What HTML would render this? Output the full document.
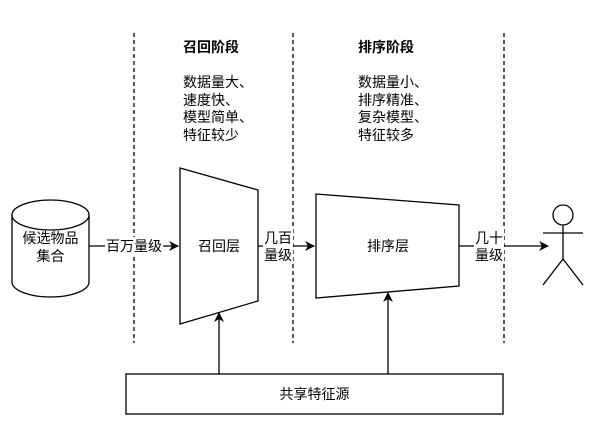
<!DOCTYPE html>
<html><head><meta charset="utf-8"><style>
body{margin:0;background:#fff;}
svg text{font-family:"Liberation Sans","Noto Sans CJK SC",sans-serif;font-size:14px;fill:#000;}
</style></head><body>
<svg width="606" height="438" viewBox="0 0 606 438" xmlns="http://www.w3.org/2000/svg">
<defs><marker id="a" markerWidth="10" markerHeight="10" refX="9" refY="5" orient="auto" markerUnits="userSpaceOnUse"><path d="M0,0 L10,5 L0,10 L3,5 Z" fill="#000"/></marker></defs>
<rect width="606" height="438" fill="#fff"/>
<g stroke="#000" stroke-width="1.3" stroke-dasharray="4,3">
<line x1="134" y1="33" x2="134" y2="343"/>
<line x1="293" y1="33" x2="293" y2="343"/>
<line x1="504" y1="33" x2="504" y2="343"/>
</g>
<g fill="#fff" stroke="#000" stroke-width="1.3">
<path d="M12,215 L12,282 A38.5,15 0 0 0 89,282 L89,215"/>
<ellipse cx="50.5" cy="215" rx="38.5" ry="15"/>
<path d="M180,168 L258,190 L258,301 L180,324 Z"/>
<path d="M316,194 L459,205 L459,286 L316,298 Z"/>
<rect x="126" y="374" width="377" height="40"/>
</g>
<g stroke="#000" stroke-width="1.3" fill="none">
<line x1="89" y1="246" x2="178" y2="246" marker-end="url(#a)"/>
<line x1="258" y1="246" x2="314" y2="246" marker-end="url(#a)"/>
<line x1="459" y1="246" x2="548" y2="246" marker-end="url(#a)"/>
<line x1="219" y1="374" x2="219" y2="313" marker-end="url(#a)"/>
<line x1="388" y1="374" x2="388" y2="293" marker-end="url(#a)"/>
<circle cx="563" cy="215" r="10"/>
<line x1="563" y1="225" x2="563" y2="259"/>
<line x1="543" y1="233" x2="583" y2="233"/>
<line x1="563" y1="259" x2="543" y2="285"/>
<line x1="563" y1="259" x2="583" y2="285"/>
</g>
<rect x="105" y="237" width="58" height="18" fill="#fff"/>
<text x="106" y="251">百万量级</text>
<rect x="263" y="228" width="30" height="36" fill="#fff"/>
<text x="264" y="243">几百</text><text x="264" y="260">量级</text>
<rect x="474" y="228" width="30" height="36" fill="#fff"/>
<text x="475" y="243">几十</text><text x="475" y="260">量级</text>
<text x="50.5" y="243" text-anchor="middle">候选物品</text>
<text x="50.5" y="261" text-anchor="middle">集合</text>
<text x="219" y="251" text-anchor="middle">召回层</text>
<text x="388" y="251" text-anchor="middle">排序层</text>
<text x="314.5" y="399" text-anchor="middle">共享特征源</text>
<text x="183" y="52" font-weight="bold">召回阶段</text>
<text x="183" y="87">数据量大、</text>
<text x="183" y="105">速度快、</text>
<text x="183" y="122">模型简单、</text>
<text x="183" y="140">特征较少</text>
<text x="358" y="52" font-weight="bold">排序阶段</text>
<text x="358" y="87">数据量小、</text>
<text x="358" y="105">排序精准、</text>
<text x="358" y="122">复杂模型、</text>
<text x="358" y="140">特征较多</text>
</svg>
</body></html>
